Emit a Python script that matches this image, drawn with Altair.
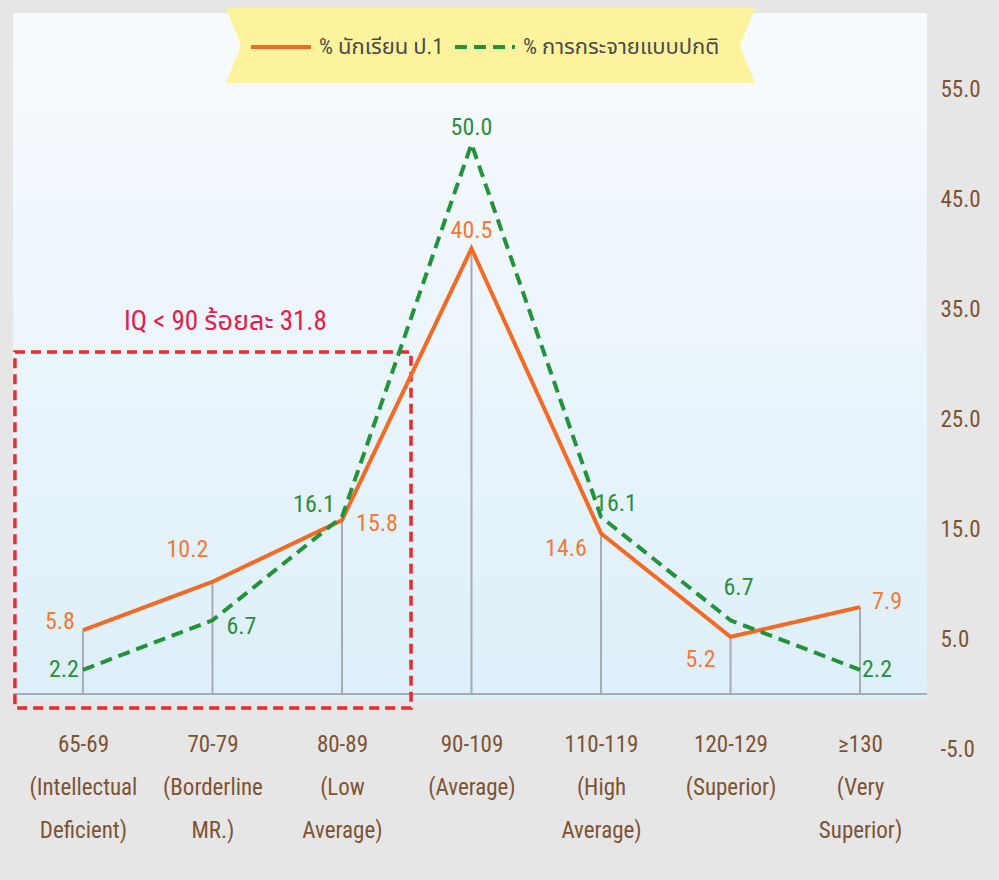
import json

import altair as alt
import pandas as pd

# ---- data -------------------------------------------------------------
iq_ranges = ["65-69", "70-79", "80-89", "90-109", "110-119", "120-129", "≥130"]
iq_levels = [
    ["(Intellectual", "Deficient)"],
    ["(Borderline", "MR.)"],
    ["(Low", "Average)"],
    ["(Average)"],
    ["(High", "Average)"],
    ["(Superior)"],
    ["(Very", "Superior)"],
]
student_pct = [5.8, 10.2, 15.8, 40.5, 14.6, 5.2, 7.9]
normal_pct = [2.2, 6.7, 16.1, 50.0, 16.1, 6.7, 2.2]
series_names = ["% นักเรียน ป.1", "% การกระจายแบบปกติ"]
y_ticks = [-5, 5, 15, 25, 35, 45, 55]

# ---- styling ----------------------------------------------------------
FONT = "Roboto Condensed, Noto Sans Thai, sans-serif"
ORANGE = "#f26a24"
GREEN = "#23933a"
ORANGE_TXT = "#f27a34"
GREEN_TXT = "#2b8e3c"
BROWN = "#7d5433"
GRAY = "#aaaab2"
BG = "#e6e6e6"

# pixel nudges of each value label relative to its point
student_label_nudge = [(-23, -8), (-25, -32), (35, 4), (0, -18), (-35, 16), (-30, 23), (27, -5)]
normal_label_nudge = [(-19, 0), (29, 7), (-28, -12), (0, -16), (15, -13), (8, -32), (17, 0)]

n = len(iq_ranges)
df = pd.DataFrame(
    {
        "idx": list(range(n)) * 2,
        "series": [series_names[0]] * n + [series_names[1]] * n,
        "pct": student_pct + normal_pct,
    }
)
one = pd.DataFrame({"k": [0]})

x_labels = [[r] + lv for r, lv in zip(iq_ranges, iq_levels)]
x_enc = alt.X(
    "idx:Q",
    scale=alt.Scale(domain=[-0.54, 6.517], nice=False, zero=False),
    axis=alt.Axis(
        values=list(range(n)),
        labelExpr=json.dumps(x_labels, ensure_ascii=False) + "[datum.value]",
        domain=False, ticks=False, grid=False, title=None,
        labelFont=FONT, labelFontSize=23, labelColor=BROWN,
        labelLineHeight=43, labelPadding=-16, labelAngle=0,
        labelOverlap=False, labelFlush=False, labelLimit=0,
    ),
)
y_enc = alt.Y(
    "pct:Q",
    scale=alt.Scale(domain=[-5, 61.91], nice=False, zero=False),
    axis=alt.Axis(
        orient="right", values=y_ticks,
        labelExpr="(datum.value < 0 ? '-' : '') + format(abs(datum.value), '.1f')",
        domain=False, ticks=False, grid=False, title=None,
        labelFont=FONT, labelFontSize=23, labelColor=BROWN, labelPadding=13,
    ),
)

legend = alt.Legend(
    orient="none", legendX=236, legendY=2, direction="horizontal", title=None,
    symbolType="stroke", symbolSize=3600, symbolStrokeWidth=4,
    labelFont=FONT, labelFontSize=22, labelColor="#4a4a4a", labelLimit=0,
    labelOffset=6, columnPadding=3, padding=0,
)
color_enc = alt.Color(
    "series:N", scale=alt.Scale(domain=series_names, range=[ORANGE, GREEN]), legend=legend
)
dash_enc = alt.StrokeDash(
    "series:N", scale=alt.Scale(domain=series_names, range=[[1, 0], [12, 7]]), legend=legend
)

# plot-area backdrop with a soft vertical gradient
backdrop = alt.Chart(one).mark_rect(
    color=alt.Gradient(
        gradient="linear",
        stops=[alt.GradientStop(color="#f8fbfe", offset=0),
               alt.GradientStop(color="#ddeff9", offset=1)],
        x1=0, x2=0, y1=0, y2=1,
    )
).encode(x=alt.value(0), x2=alt.value(914), y=alt.value(0), y2=alt.value(687))

# ribbon behind the legend (notched at both ends)
ribbon_path = "M-1,-0.1418L1,-0.1418L0.9433,0L1,0.1418L-1,0.1418L-0.9433,0Z"
ribbon = alt.Chart(one).mark_point(
    shape=ribbon_path, size=529 ** 2, filled=True, fill="#fdf39c", opacity=1, strokeWidth=0
).encode(x=alt.value(477.5), y=alt.value(32.5))

baseline = alt.Chart(one).mark_rule(color=GRAY, strokeWidth=2).encode(y=alt.datum(0))

drops = alt.Chart(df).transform_filter(
    alt.datum.series == series_names[0]
).mark_rule(color=GRAY, strokeWidth=2).encode(x=x_enc, y=y_enc, y2=alt.datum(0))

# dashed frame around the IQ < 90 groups
frame = alt.Chart(one).mark_rect(
    filled=False, stroke="#ea2a2c", strokeWidth=3.5, strokeDash=[10, 6]
).encode(
    x=alt.datum(-0.525), x2=alt.datum(2.533), y=alt.datum(31.1), y2=alt.datum(-1.27)
)
below_90 = sum(student_pct[:3])
frame_note = alt.Chart(one).mark_text(
    text=f"IQ < 90 ร้อยละ {below_90:.1f}", font=FONT, fontSize=27, color="#e2204a"
).encode(x=alt.datum(1.1), y=alt.datum(33.8))

line_layers = [
    alt.Chart(df).transform_filter(alt.datum.series == s).mark_line(strokeWidth=4).encode(
        x=x_enc, y=y_enc, color=color_enc, strokeDash=dash_enc
    )
    for s in series_names
]

label_layers = []
for name, nudges, col in [
    (series_names[0], student_label_nudge, ORANGE_TXT),
    (series_names[1], normal_label_nudge, GREEN_TXT),
]:
    for i, (dx, dy) in enumerate(nudges):
        label_layers.append(
            alt.Chart(df)
            .transform_filter((alt.datum.series == name) & (alt.datum.idx == i))
            .mark_text(dx=dx, dy=dy, font=FONT, fontSize=24, color=col,
                       align="center", baseline="middle")
            .encode(x=x_enc, y=y_enc, text=alt.Text("pct:Q", format=".1f"))
        )

chart = (
    alt.layer(backdrop, baseline, drops, frame, frame_note, *line_layers, *label_layers, ribbon)
    .properties(
        width=914, height=736,
        background=BG,
        padding={"left": 13, "top": 13, "right": 72, "bottom": 131},
        autosize=alt.AutoSizeParams(type="none"),
    )
    .configure_view(stroke=None)
)

chart.save("out.html", embed_options={"renderer": "svg", "actions": False})
